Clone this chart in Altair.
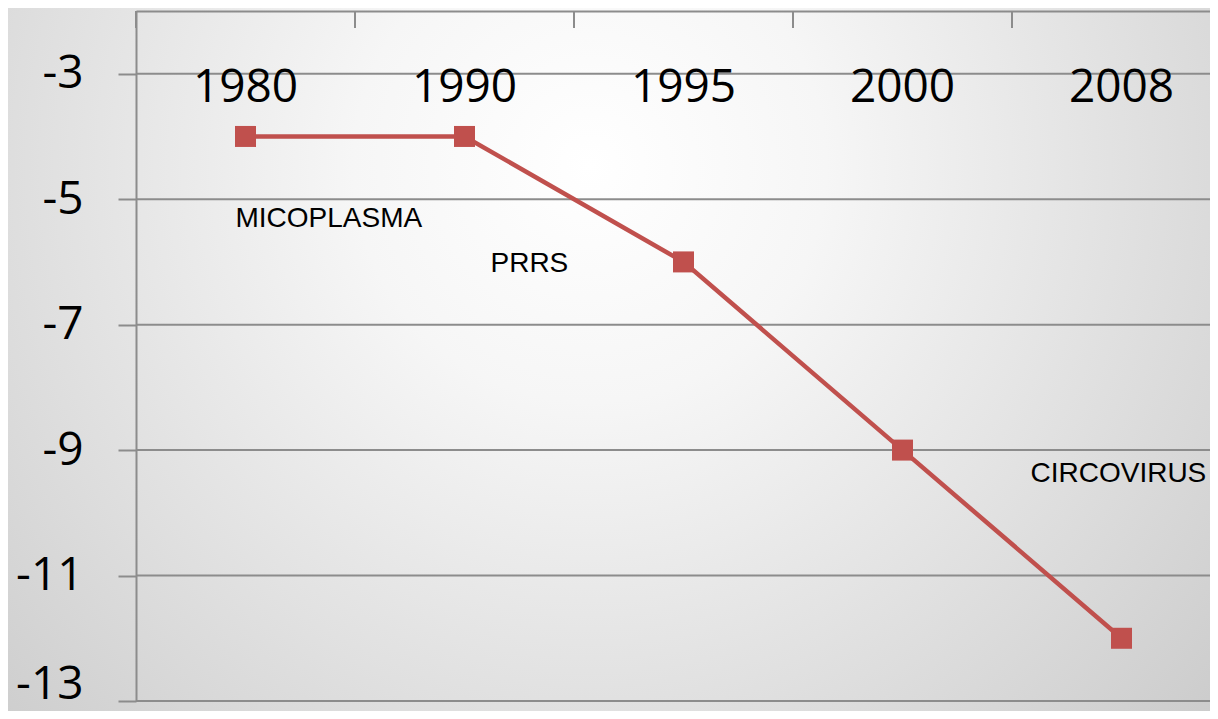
import altair as alt
import pandas as pd

years = ["1980", "1990", "1995", "2000", "2008"]
values = [-4, -4, -6, -9, -12]
y_ticks = [-13, -11, -9, -7, -5, -3]
label_texts = ["MICOPLASMA", "PRRS", "CIRCOVIRUS"]
label_years = ["1980", "1995", "2000"]

df = pd.DataFrame({"year": years, "value": values, "idx": list(range(len(years)))})
bounds = pd.DataFrame({"b": [i - 0.5 for i in range(len(years))]})
grid_df = pd.DataFrame({"v": y_ticks})
one = pd.DataFrame({"a": [0]})

W, H = 1074, 690
GRAY = "#8c8c8c"
RED = "#C0504D"

x_scale = alt.Scale(domain=[-0.5, -0.5 + W / 219], nice=False, zero=False)
y_scale = alt.Scale(domain=[-13, -2], nice=False, zero=False)

bg = alt.Chart(one).mark_rect(
    color=alt.Gradient(
        gradient="radial",
        stops=[
            alt.GradientStop(color="#ffffff", offset=0),
            alt.GradientStop(color="#f6f6f6", offset=0.25),
            alt.GradientStop(color="#c4c4c4", offset=1),
        ],
        x1=0.48, y1=0.34, r1=0, x2=0.48, y2=0.34, r2=0.78,
    )
).encode(x=alt.value(-128), x2=alt.value(W + 10), y=alt.value(-3), y2=alt.value(H + 10))

grid = alt.Chart(grid_df).mark_rule(color=GRAY, strokeWidth=2).encode(
    y=alt.Y("v:Q", scale=y_scale,
            axis=alt.Axis(values=y_ticks, grid=False, domainColor=GRAY, domainWidth=2,
                          tickColor=GRAY, tickWidth=2, tickSize=18, zindex=1,
                          labelFontSize=46, labelFont="Open Sans", labelColor="#000000",
                          labelPadding=35, labelExpr="'' + datum.value",
                          labelOffset=alt.condition("datum.value == -13", alt.value(-17), alt.value(0)),
                          title=None)),
    x=alt.value(0), x2=alt.value(W),
)

top_axis = alt.Chart(bounds).mark_rule(color=GRAY, strokeWidth=2).encode(
    x=alt.X("b:Q", scale=x_scale,
            axis=alt.Axis(orient="top", labels=False, ticks=False, grid=False, zindex=1,
                          domainColor=GRAY, domainWidth=2, title=None)),
    y=alt.value(0), y2=alt.value(17),
)

year_text = alt.Chart(df).mark_text(
    font="Open Sans", fontSize=46, baseline="alphabetic", align="center", color="#000000"
).encode(x=alt.X("idx:Q", scale=x_scale), y=alt.value(91), text="year:N")

line = alt.Chart(df).mark_line(color=RED, strokeWidth=4.5).encode(
    x=alt.X("idx:Q", scale=x_scale), y=alt.Y("value:Q", scale=y_scale)
)
pts = alt.Chart(df).mark_square(color=RED, size=441, opacity=1).encode(
    x=alt.X("idx:Q", scale=x_scale), y=alt.Y("value:Q", scale=y_scale)
)

offsets = {"MICOPLASMA": (-10, 91), "PRRS": (-193, 10), "CIRCOVIRUS": (128, 32)}
ann_layers = []
for txt, yr in zip(label_texts, label_years):
    d = df[df["year"] == yr].assign(label=txt)
    dx, dy = offsets[txt]
    ann_layers.append(
        alt.Chart(d).mark_text(font="Liberation Sans", fontSize=28, align="left",
                               baseline="alphabetic", color="#000000", dx=dx, dy=dy)
        .encode(x=alt.X("idx:Q", scale=x_scale), y=alt.Y("value:Q", scale=y_scale), text="label:N")
    )

chart = alt.layer(bg, grid, top_axis, year_text, line, pts, *ann_layers).properties(
    width=W, height=H,
    autosize=alt.AutoSizeParams(type="none"),
    padding={"left": 128, "top": 3, "right": 0, "bottom": 10},
    background="#d0d0d0",
).configure_view(stroke=None)

chart.save("out.html", embed_options={"renderer": "svg", "actions": False})
